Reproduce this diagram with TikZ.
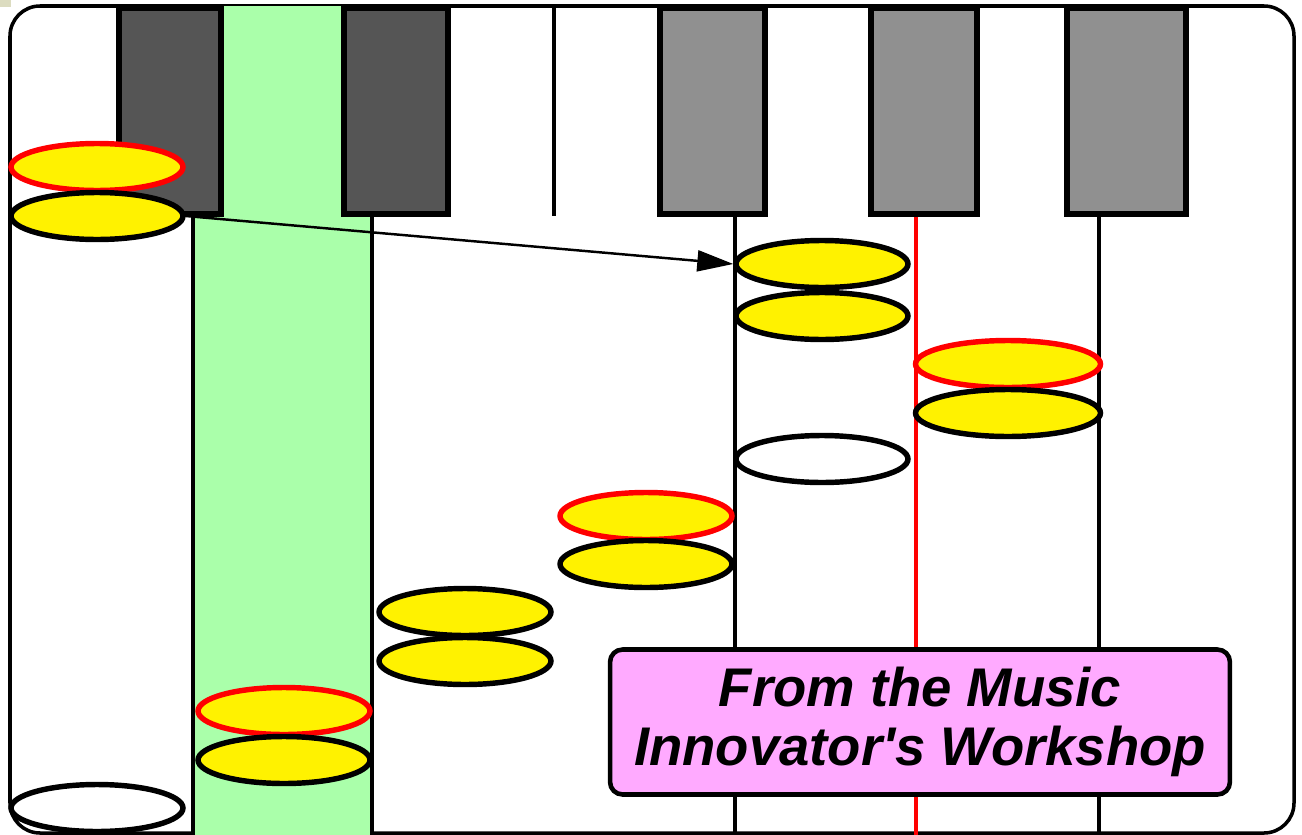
\documentclass[tikz,border=0pt]{standalone}
\usepackage{fontspec}
\setmainfont{Liberation Sans}[Ligatures=TeXOff]
\usetikzlibrary{shapes.geometric,arrows.meta}
\definecolor{keydark}{HTML}{555555}
\definecolor{keygrey}{HTML}{909090}
\definecolor{bandgreen}{HTML}{AAFFAA}
\definecolor{notepink}{HTML}{FFAAFF}
\definecolor{corner}{HTML}{DCDCC0}
\tikzset{
    disc/.style={ellipse, draw, line width=3.1pt, fill=yellow, inner sep=0pt,
        minimum width=3.44cm, minimum height=0.94cm},
    hot/.style={disc, draw=red},
    rest/.style={disc, fill=white},
    widehot/.style={hot, minimum width=3.7cm},
    widedisc/.style={disc, minimum width=3.7cm},
    stem/.style={line width=2.8pt},
}
\begin{document}
\begin{tikzpicture}[x=0.02cm,y=-0.02cm]
\useasboundingbox (0,0) rectangle (1302,835);
\fill[corner] (0,0) rectangle (11,7);
\draw[line width=2pt, fill=white, rounded corners=0.6cm] (10,6) rectangle (1294,833);
\fill[bandgreen] (193,6) rectangle (372,835);
\foreach \x in {193,372,735,1099}{
    \draw[stem] (\x,214) -- (\x,835);
}
\draw[stem, red] (916,214) -- (916,835);
\draw[stem] (554,6) -- (554,216);
\foreach \l/\r/\c in {119/221/keydark,344/448/keydark,660/765/keygrey,871/977/keygrey,1067/1186/keygrey}{
    \draw[line width=3pt, fill=\c] (\l,8) rectangle (\r,214);
}
\foreach \n/\x/\y/\s in {a1/97/167/hot,a2/97/216/disc,a3/97/808/rest,
    b1/284/711/hot,b2/284/760/disc,c1/465/612/disc,c2/465/661/disc,
    d1/646/516/hot,d2/646/564/disc,e1/822/264/disc,e2/822/316/disc,e3/822/459/rest,
    f1/1008/364/widehot,f2/1008/413/widedisc}{
    \node[\s] (\n) at (\x,\y) {};
}
\draw[line width=1.4pt, -{Triangle[length=0.72cm,width=0.42cm]}] (a2.east) -- (e1.west);
\node[draw, line width=2.6pt, fill=notepink, rounded corners=0.25cm,
    minimum width=12.4cm, minimum height=2.9cm, align=center,
    font=\fontsize{31}{36}\selectfont\bfseries\itshape] (credit) at (920,722)
    {From the Music\\[-2pt]Innovator's Workshop};
\end{tikzpicture}
\end{document}
